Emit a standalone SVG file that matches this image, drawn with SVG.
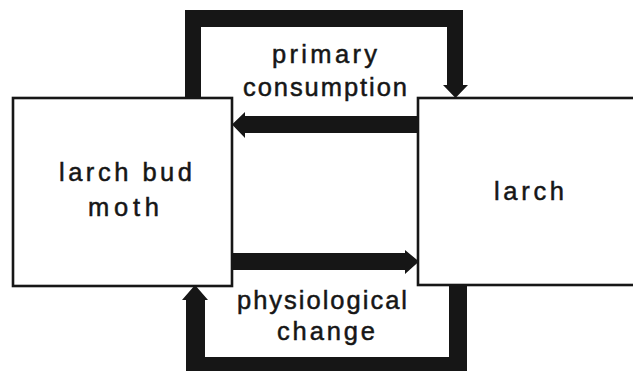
<svg xmlns="http://www.w3.org/2000/svg" width="633" height="371" viewBox="0 0 633 371">
<style>
.box{fill:#fff;stroke:#161616;stroke-width:2.6}
.con{fill:#161616;stroke:none}
.t{font-family:"Liberation Sans",Arial,Helvetica,sans-serif;font-size:25.5px;fill:#161616;stroke:#161616;stroke-width:0.5}
</style>
<rect width="633" height="371" fill="#fff"/>
<g id="larch-bud-moth">
<rect class="box" x="13" y="98" width="219" height="188"/>
<text class="t" x="59" y="181" textLength="133" lengthAdjust="spacing">larch bud</text>
<text class="t" x="88" y="216" textLength="71" lengthAdjust="spacing">moth</text>
</g>
<g id="larch">
<rect class="box" x="418" y="98" width="230" height="187"/>
<text class="t" x="494" y="200" textLength="70" lengthAdjust="spacing">larch</text>
</g>
<g id="connectors">
<path class="con" d="M185,98 V10 H463 V85 H468 L455.5,98 L443,85 H447 V27 H201 V98 Z"/>
<path class="con" d="M418,116 V133 H245 V138 L232,124.5 L245,112 V116 Z"/>
<path class="con" d="M232,253 H405 V250 L419,261.5 L405,274 V270 H232 Z"/>
<path class="con" d="M205,300 H208 L195,285 L182,300 H186 V375 H467 V285 H449 V357 H205 Z"/>
</g>
<g id="labels">
<text class="t" x="272" y="63" textLength="105" lengthAdjust="spacing">primary</text>
<text class="t" x="243" y="96" textLength="164" lengthAdjust="spacing">consumption</text>
<text class="t" x="237" y="309" textLength="170" lengthAdjust="spacing">physiological</text>
<text class="t" x="277" y="340" textLength="98" lengthAdjust="spacing">change</text>
</g>
</svg>
